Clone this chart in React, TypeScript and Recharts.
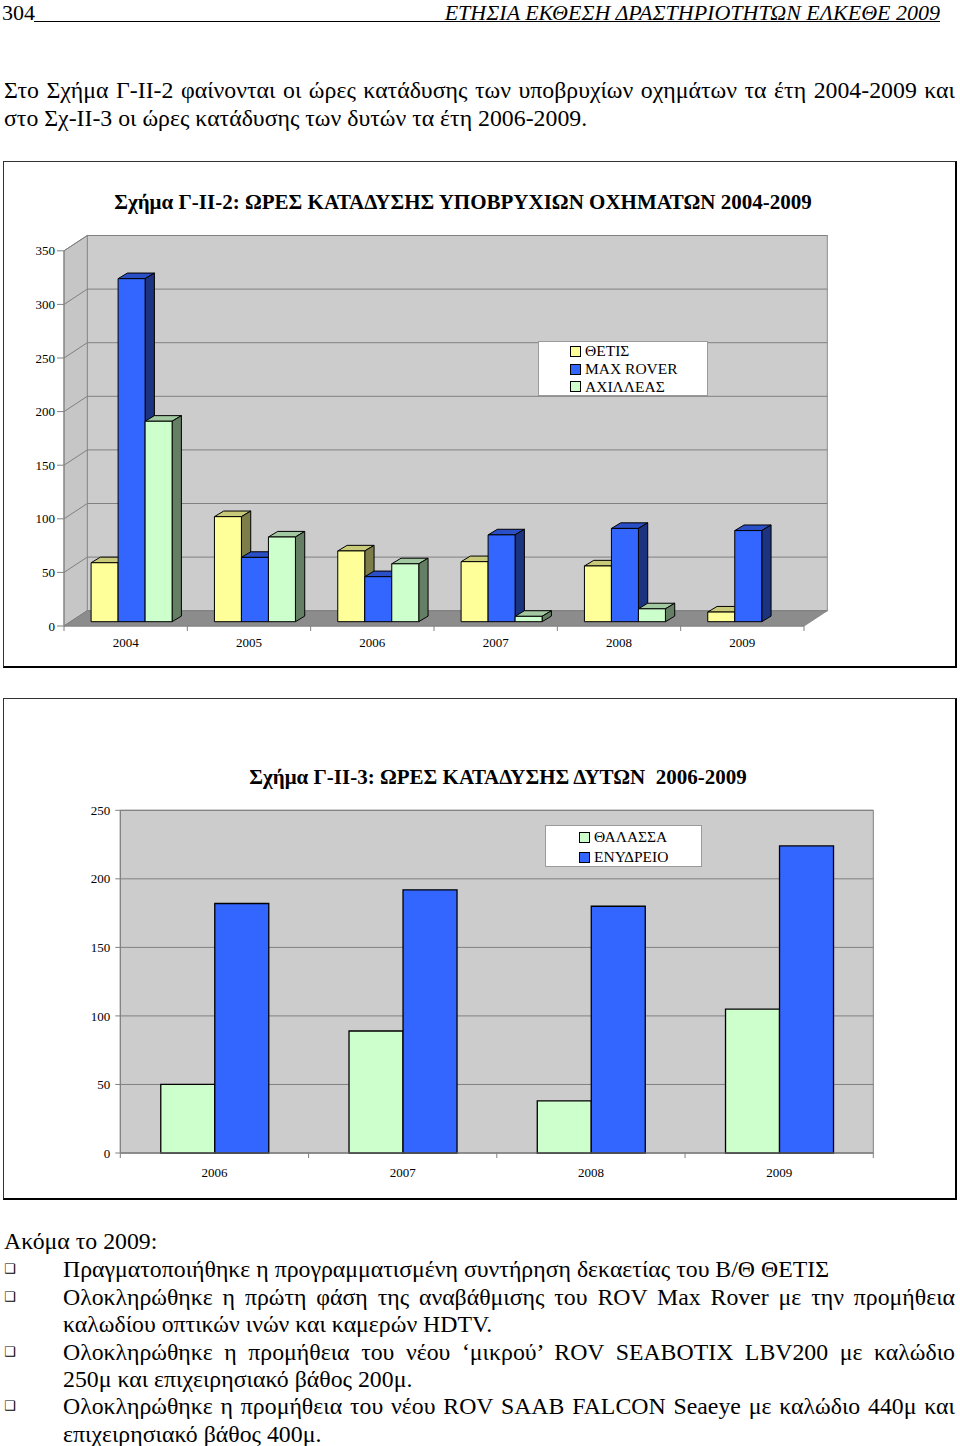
import React from 'react'
import { BarChart, Bar, XAxis, YAxis, CartesianGrid, ReferenceArea, ReferenceLine, Legend } from 'recharts'

// Σχήμα Γ-ΙΙ-2
const years1 = ['2004', '2005', '2006', '2007', '2008', '2009']
const thetis = [55, 98, 66, 56, 52, 9]
const maxRover = [320, 60, 42, 81, 87, 85]
const achilleas = [187, 79, 54, 5, 12, 0]
const ticks1 = [0, 50, 100, 150, 200, 250, 300, 350]

// Σχήμα Γ-ΙΙ-3
const years2 = ['2006', '2007', '2008', '2009']
const thalassa = [50, 89, 38, 105]
const enydreio = [182, 192, 180, 224]
const ticks2 = [0, 50, 100, 150, 200, 250]

const data1 = years1.map((year, i) => ({ year, thetis: thetis[i], maxRover: maxRover[i], achilleas: achilleas[i] }))
const data2 = years2.map((year, i) => ({ year, thalassa: thalassa[i], enydreio: enydreio[i] }))

const vehicles = [
  { key: 'thetis', name: 'ΘΕΤΙΣ', front: '#ffff99', top: '#c9c97a', side: '#7d7d4a' },
  { key: 'maxRover', name: 'MAX ROVER', front: '#3366ff', top: '#2b4fc6', side: '#1c3380' },
  { key: 'achilleas', name: 'ΑΧΙΛΛΕΑΣ', front: '#ccffcc', top: '#a2c9a2', side: '#657f65' },
]
const divers = [
  { key: 'thalassa', name: 'ΘΑΛΑΣΣΑ', color: '#ccffcc' },
  { key: 'enydreio', name: 'ΕΝΥΔΡΕΙΟ', color: '#3366ff' },
]

const SERIF = "'Liberation Serif', 'Times New Roman', serif"

// chart 1 layout (3d look)
const W1 = 954
const H1 = 507
const M1 = { top: 89.8, right: 153, left: 0, bottom: 0 }
const Y1W = 61
const X1H = 42
const WALL = { dx: 23.3, dy: -15.3 }
const SHIFT = { dx: 6.5, dy: -4.3 }
const DEPTH = { dx: 9.3, dy: -5.6 }
const band1 = (W1 - Y1W - M1.right) / years1.length

// chart 2 layout
const W2 = 954
const H2 = 502
const M2 = { top: 112.3, right: 83.7, left: 0, bottom: 0 }
const Y2W = 117.3
const X2H = 47
const band2 = (W2 - Y2W - M2.right) / years2.length

function make3DBar(top: string, side: string) {
  return (props: any) => {
    const { x, y, width, height, fill } = props
    if (!height || height < 0.5) return <g />
    const fx = x + SHIFT.dx
    const fy = y + SHIFT.dy
    const { dx, dy } = DEPTH
    return (
      <g stroke="#000" strokeWidth={1} strokeLinejoin="round">
        <polygon points={`${fx},${fy} ${fx + dx},${fy + dy} ${fx + width + dx},${fy + dy} ${fx + width},${fy}`} fill={top} />
        <polygon
          points={`${fx + width},${fy} ${fx + width + dx},${fy + dy} ${fx + width + dx},${fy + height + dy} ${fx + width},${fy + height}`}
          fill={side}
        />
        <rect x={fx} y={fy} width={width} height={height} fill={fill} />
      </g>
    )
  }
}

const Walls = (props: any) => {
  const { x, y, width, height } = props
  const { dx, dy } = WALL
  const b = y + height
  return (
    <g>
      <rect x={x + dx} y={y + dy} width={width} height={height} fill="#cccccc" stroke="#8a8a8a" />
      <polygon points={`${x},${y} ${x + dx},${y + dy} ${x + dx},${b + dy} ${x},${b}`} fill="#c6c6c6" stroke="#8a8a8a" />
      <polygon points={`${x},${b} ${x + dx},${b + dy} ${x + width + dx},${b + dy} ${x + width},${b}`} fill="#8c8c8c" stroke="#8a8a8a" />
    </g>
  )
}

const GridLine3D = (props: any) => {
  const { x1, y1, x2, y2 } = props
  const { dx, dy } = WALL
  return (
    <polyline
      points={`${x1},${y1} ${x1 + dx},${y1 + dy} ${x2 + dx},${y2 + dy}`}
      fill="none"
      stroke="#808080"
      strokeWidth={1}
    />
  )
}

function makeXTick(band: number, count: number, labelDy: number) {
  return (props: any) => {
    const { x, y, payload, index } = props
    return (
      <g>
        <line x1={x - band / 2} y1={y} x2={x - band / 2} y2={y + 5} stroke="#808080" />
        {index === count - 1 && <line x1={x + band / 2} y1={y} x2={x + band / 2} y2={y + 5} stroke="#808080" />}
        <text x={x} y={y + labelDy} textAnchor="middle" dominantBaseline="central" fontSize={13} fontFamily={SERIF} fill="#000">
          {payload.value}
        </text>
      </g>
    )
  }
}

function LegendBox({ items, width, height, iconLeft, rowH }: any) {
  return (
    <div
      style={{
        width,
        height,
        boxSizing: 'border-box',
        background: '#fff',
        border: '1px solid #9a9a9a',
        paddingTop: 1,
        fontFamily: SERIF,
        fontSize: 15.5,
        color: '#000',
      }}
    >
      {items.map((it: any) => (
        <div key={it.name} style={{ display: 'flex', alignItems: 'center', height: rowH, paddingLeft: iconLeft }}>
          <span
            style={{ display: 'inline-block', width: 9, height: 9, background: it.color, border: '1px solid #000', marginRight: 4 }}
          />
          <span>{it.name}</span>
        </div>
      ))}
    </div>
  )
}

function Frame({ left, top, width, height, children }: any) {
  return (
    <div style={{ position: 'absolute', left, top, width, height }}>
      {children}
      <div
        style={{
          position: 'absolute',
          left: 0,
          top: 0,
          width,
          height,
          boxSizing: 'border-box',
          borderTop: '1.5px solid #333',
          borderLeft: '1.5px solid #333',
          borderRight: '2px solid #000',
          borderBottom: '2.5px solid #000',
          pointerEvents: 'none',
        }}
      />
    </div>
  )
}

function Chart1() {
  return (
    <Frame left={3} top={161} width={W1} height={H1}>
      <div
        style={{
          position: 'absolute',
          left: 0,
          top: 29,
          width: 920,
          textAlign: 'center',
          fontFamily: SERIF,
          fontWeight: 'bold',
          fontSize: 21,
        }}
      >
        Σχήμα Γ-ΙΙ-2: ΩΡΕΣ ΚΑΤΑΔΥΣΗΣ ΥΠΟΒΡΥΧΙΩΝ ΟΧΗΜΑΤΩΝ 2004-2009
      </div>
      <div style={{ position: 'absolute', left: 0, top: 0 }}>
        <BarChart width={W1} height={H1} data={data1} margin={M1} barGap={0} barCategoryGap="16.7%">
          <ReferenceArea y1={0} y2={350} ifOverflow="visible" shape={Walls} zIndex={-90} />
          {ticks1.map((t) => (
            <ReferenceLine key={t} y={t} ifOverflow="visible" shape={GridLine3D} zIndex={-80} />
          ))}
          <XAxis
            dataKey="year"
            height={X1H}
            axisLine={{ stroke: '#808080' }}
            tickLine={false}
            tickSize={0}
            tickMargin={0}
            interval={0}
            tick={makeXTick(band1, years1.length, 16)}
          />
          <YAxis
            width={Y1W}
            domain={[0, 350]}
            ticks={ticks1}
            axisLine={{ stroke: '#808080' }}
            tickLine={{ stroke: '#808080' }}
            tickSize={7}
            tickMargin={2}
            tick={{ fontSize: 13, fontFamily: SERIF, fill: '#000' }}
          />
          {vehicles.map((v) => (
            <Bar
              key={v.key}
              dataKey={v.key}
              name={v.name}
              fill={v.front}
              shape={make3DBar(v.top, v.side)}
              isAnimationActive={false}
            />
          ))}
          <Legend
            layout="vertical"
            align="center"
            verticalAlign="middle"
            wrapperStyle={{ left: 535, top: 179.5, width: 170, height: 55 }}
            content={() => (
              <LegendBox
                items={vehicles.map((v) => ({ name: v.name, color: v.front }))}
                width={170}
                height={55}
                iconLeft={31}
                rowH={17.7}
              />
            )}
          />
        </BarChart>
      </div>
    </Frame>
  )
}

function Chart2() {
  return (
    <Frame left={3} top={698} width={W2} height={H2}>
      <div
        style={{
          position: 'absolute',
          left: 0,
          top: 67,
          width: 990,
          textAlign: 'center',
          fontFamily: SERIF,
          fontWeight: 'bold',
          fontSize: 21,
          whiteSpace: 'pre',
        }}
      >
        {'Σχήμα Γ-ΙΙ-3: ΩΡΕΣ ΚΑΤΑΔΥΣΗΣ ΔΥΤΩΝ  2006-2009'}
      </div>
      <div style={{ position: 'absolute', left: 0, top: 0 }}>
        <BarChart width={W2} height={H2} data={data2} margin={M2} barGap={0} barCategoryGap="21.5%">
          <CartesianGrid vertical={false} fill="#cccccc" stroke="#808080" horizontalValues={ticks2} />
          <ReferenceArea y1={0} y2={250} ifOverflow="visible" fill="none" stroke="#808080" strokeWidth={1} />
          <XAxis
            dataKey="year"
            height={X2H}
            axisLine={{ stroke: '#808080' }}
            tickLine={false}
            tickSize={0}
            tickMargin={0}
            interval={0}
            tick={makeXTick(band2, years2.length, 19.7)}
          />
          <YAxis
            width={Y2W}
            domain={[0, 250]}
            ticks={ticks2}
            axisLine={{ stroke: '#808080' }}
            tickLine={{ stroke: '#808080' }}
            tickSize={5}
            tickMargin={5}
            tick={{ fontSize: 13, fontFamily: SERIF, fill: '#000' }}
          />
          {divers.map((d) => (
            <Bar
              key={d.key}
              dataKey={d.key}
              name={d.name}
              fill={d.color}
              stroke="#000"
              strokeWidth={1.3}
              isAnimationActive={false}
            />
          ))}
          <Legend
            layout="vertical"
            align="center"
            verticalAlign="middle"
            wrapperStyle={{ left: 542, top: 127, width: 157, height: 42 }}
            content={() => (
              <LegendBox items={divers} width={157} height={42} iconLeft={33} rowH={20} />
            )}
          />
        </BarChart>
      </div>
    </Frame>
  )
}

const textStyle: React.CSSProperties = {
  position: 'absolute',
  fontFamily: SERIF,
  fontSize: 23.8,
  lineHeight: '28px',
  color: '#000',
  whiteSpace: 'nowrap',
}

function Line({ left, center, width, justify, children }: any) {
  return (
    <div
      style={{
        ...textStyle,
        left,
        top: center - 14,
        width,
        whiteSpace: justify ? 'normal' : 'nowrap',
        textAlign: justify ? 'justify' : 'left',
        textAlignLast: justify ? 'justify' : 'auto',
      }}
    >
      {children}
    </div>
  )
}

function Bullet({ center }: any) {
  return (
    <div style={{ position: 'absolute', left: 4, top: center - 10, fontFamily: "'DejaVu Sans', sans-serif", fontSize: 13, lineHeight: '20px' }}>
      ❑
    </div>
  )
}

export default function App() {
  return (
    <div style={{ position: 'absolute', left: 0, top: 0, width: 960, height: 1446, background: '#fff', overflow: 'hidden' }}>
      {/* header */}
      <div style={{ ...textStyle, left: 2, top: 0, fontSize: 22, lineHeight: '26px' }}>304</div>
      <div style={{ ...textStyle, right: 20, top: 0, fontSize: 22, lineHeight: '26px', fontStyle: 'italic' }}>
        ΕΤΗΣΙΑ ΕΚΘΕΣΗ ΔΡΑΣΤΗΡΙΟΤΗΤΩΝ ΕΛΚΕΘΕ 2009
      </div>
      <div style={{ position: 'absolute', left: 34, top: 21, width: 906, height: 1, background: '#000' }} />

      <Line left={4} center={90} width={951} justify>
        Στο Σχήμα Γ-ΙΙ-2 φαίνονται οι ώρες κατάδυσης των υποβρυχίων οχημάτων τα έτη 2004-2009 και
      </Line>
      <Line left={4} center={118}>
        στο Σχ-ΙΙ-3 οι ώρες κατάδυσης των δυτών τα έτη 2006-2009.
      </Line>

      <Chart1 />
      <Chart2 />

      <Line left={4} center={1241}>
        Ακόμα το 2009:
      </Line>
      <Bullet center={1269} />
      <Line left={63} center={1269}>
        Πραγματοποιήθηκε η προγραμματισμένη συντήρηση δεκαετίας του Β/Θ ΘΕΤΙΣ
      </Line>
      <Bullet center={1296.5} />
      <Line left={63} center={1296.5} width={892} justify>
        Ολοκληρώθηκε η πρώτη φάση της αναβάθμισης του ROV Max Rover με την προμήθεια
      </Line>
      <Line left={63} center={1324}>
        καλωδίου οπτικών ινών και καμερών HDTV.
      </Line>
      <Bullet center={1351.5} />
      <Line left={63} center={1351.5} width={892} justify>
        Ολοκληρώθηκε η προμήθεια του νέου ‘μικρού’ ROV SEABOTIX LBV200 με καλώδιο
      </Line>
      <Line left={63} center={1379}>
        250μ και επιχειρησιακό βάθος 200μ.
      </Line>
      <Bullet center={1406} />
      <Line left={63} center={1406} width={892} justify>
        Ολοκληρώθηκε η προμήθεια του νέου ROV SAAB FALCON Seaeye με καλώδιο 440μ και
      </Line>
      <Line left={63} center={1433.5}>
        επιχειρησιακό βάθος 400μ.
      </Line>
    </div>
  )
}
